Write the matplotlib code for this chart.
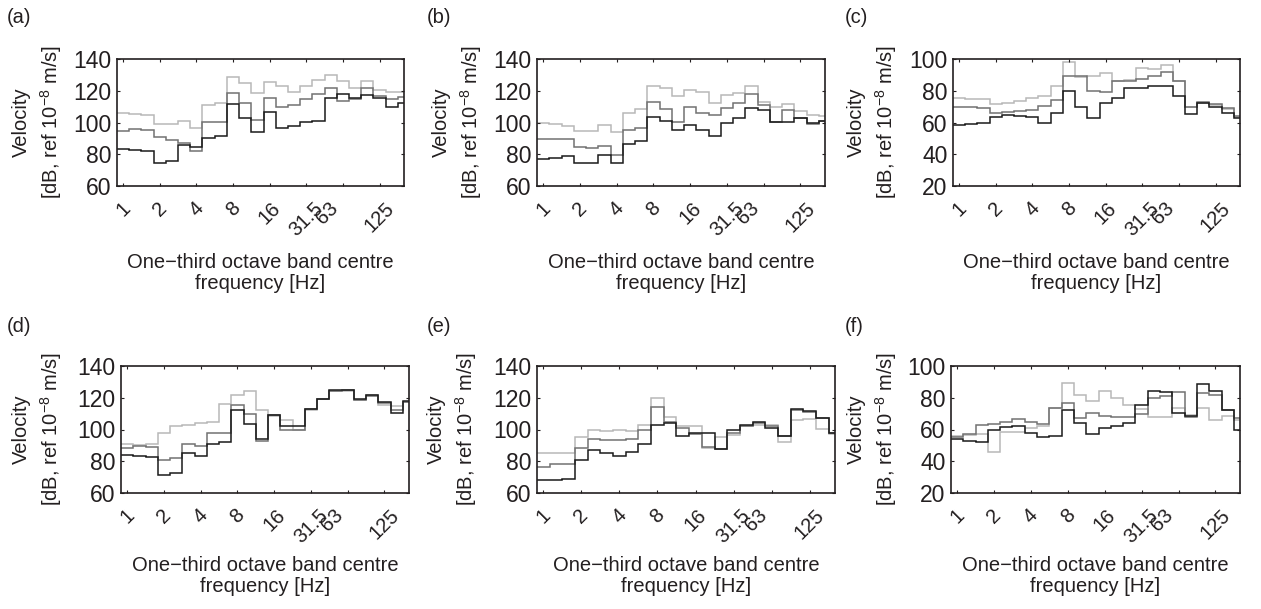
import numpy as np
import matplotlib
matplotlib.use("Agg")
import matplotlib.pyplot as plt
import matplotlib.transforms as mtransforms

plt.rcParams["font.family"] = ["Liberation Sans", "DejaVu Sans"]
plt.rcParams["mathtext.fontset"] = "custom"
plt.rcParams["mathtext.rm"] = "Liberation Sans"
plt.rcParams["mathtext.it"] = "Liberation Sans:italic"

# one-third octave bands from 1 Hz to 200 Hz (band index 0..23)
band_labels = ["1", "2", "4", "8", "16", "31.5", "63", "125"]
band_ticks = [0, 3, 6, 9, 12, 15, 18, 21]

# velocity levels, dB re 1e-8 m/s, one value per band
a_black = [83.2, 82.6, 82, 74.8, 75.6, 85.8, 84.5, 90.4, 91.7, 111.5, 103, 93.8,
           106.4, 96.3, 98, 100.5, 101, 115.7, 117.8, 115.7, 117.4, 115.3, 109.6, 112.1]
a_dark = [94.8, 95.9, 95, 91, 88.7, 87.4, 82, 100.1, 100.1, 118.5, 112.1, 101.6,
          115.7, 110, 111, 115, 118, 121.5, 113.5, 115, 121.5, 117, 114.5, 116]
a_light = [106.2, 105.6, 104.5, 98.8, 98.8, 101.2, 96.3, 111.1, 112.1, 128.4, 124.8, 118.5,
           125.4, 123.3, 119.1, 123.3, 126.9, 129.7, 126.3, 121.6, 125.9, 120.5, 119.5, 119]

b_black = [77.3, 77.7, 79, 74.6, 74.6, 79.4, 74.8, 86.2, 88.3, 103.3, 101.2, 95.2,
           98.4, 95.2, 91.7, 99.5, 102.6, 109.4, 107.9, 100.5, 100.5, 103, 99.5, 101.2]
b_dark = [89.3, 89.8, 89.8, 84.7, 84.2, 85.1, 79.4, 95.2, 96.3, 113.2, 108.5, 100.5,
          110, 105.8, 104.7, 109, 112, 117.8, 111, 100.5, 107.9, 102.6, 99, 100.9]
b_light = [99.5, 99, 98, 94.6, 94.6, 98.2, 94.2, 105.8, 108.5, 122.7, 122, 116.4,
           120.2, 119.5, 112.1, 117.4, 118.5, 122.7, 113.2, 109.5, 111.5, 107.3, 104.7, 104.3]

c_black = [58.4, 58.8, 59.5, 63.7, 64.8, 64.3, 63.7, 59.5, 65.8, 80, 70, 63,
           72.1, 75.7, 81.6, 82, 82.7, 82.7, 76.4, 65.2, 72.1, 70, 65.8, 63]
c_dark = [69.6, 69.6, 69, 66, 66.5, 67.2, 68, 70.5, 74, 89, 89, 80,
          79.5, 86, 86, 87.5, 89, 92, 86, 70, 73, 71.5, 69, 64]
c_light = [75.5, 75, 74.5, 71.5, 72, 73.5, 75.5, 76.5, 83, 98, 88.5, 89,
           91, 86.3, 86.5, 94.3, 94, 96, 86, 69.5, 72, 71, 68.5, 63.5]

d_black = [84, 83.5, 82.5, 71.5, 72.5, 85.5, 83.5, 91, 92, 112, 103.5, 94,
           109, 102.5, 102, 113, 119.5, 125, 125, 119, 122, 117.5, 110.5, 118]
d_dark = [88.5, 89.5, 89, 80.5, 82, 91, 89.5, 98, 97.5, 115.5, 110, 92.5,
          109, 100, 100, 113, 119, 124.5, 125, 118.5, 121, 116.5, 112, 117.5]
d_light = [91, 90.5, 91, 97.5, 102, 103, 104, 105, 116, 122, 124, 112.5,
           108.5, 106, 99.5, 112.5, 119, 124.5, 124.5, 118.5, 121.5, 115.5, 115, 117.5]

e_black = [68.5, 68, 69, 81, 87, 85.5, 83, 86, 91, 103, 104, 96,
           97.5, 97.5, 88, 100, 103, 105, 101, 96, 113, 111.5, 107.5, 97.5]
e_dark = [76.5, 78, 78.5, 88.5, 94, 93.5, 93.5, 94, 100, 114, 104.5, 101,
          97, 89, 88, 98, 102, 104, 102, 96, 112.5, 111, 107, 98]
e_light = [85, 85, 85.5, 95.5, 100, 99, 99.5, 99, 103, 120, 108, 102,
           102, 88.5, 95.5, 96.5, 102, 103, 103, 92, 106, 106.5, 100.5, 97]

f_black = [54, 53, 52, 59.5, 61.5, 62, 58, 55, 56, 72, 64, 57,
           61, 62, 64, 75.5, 84, 83.5, 70.5, 68.5, 88.5, 84, 72.5, 60]
f_dark = [55, 57, 63, 63.5, 65, 66.5, 64.5, 63.5, 73.5, 77, 67, 70.5,
          68.5, 68, 68, 70, 80, 81, 83.5, 68, 83, 81.5, 72, 67]
f_light = [56, 56.5, 57, 46, 58.5, 58.5, 61, 62, 73.5, 89.5, 81.5, 78,
           84.5, 80, 75.5, 73, 68, 68, 73.5, 69, 73.5, 66, 68.5, 66]

panels = ["(a)", "(b)", "(c)", "(d)", "(e)", "(f)"]
black_series = [a_black, b_black, c_black, d_black, e_black, f_black]
dark_series = [a_dark, b_dark, c_dark, d_dark, e_dark, f_dark]
light_series = [a_light, b_light, c_light, d_light, e_light, f_light]
y_ranges = [(60, 140), (60, 140), (20, 100), (60, 140), (60, 140), (20, 100)]

W, H = 1261, 609
# axes boxes in pixels: left, top, right, bottom
boxes = [(117, 59, 404, 186), (537, 59, 825, 186), (953, 59, 1240, 186),
         (121, 366, 409, 493), (537, 366, 835, 493), (951, 366, 1240, 493)]
tag_pos = [(7, 8), (427, 8), (845, 8), (7, 317), (427, 317), (845, 317)]
ylab_gap = [53, 53, 54, 57, 58, 52]      # px from axes left to the y-label
xlab_gap = [67, 67, 67, 63, 63, 63]      # px from axes bottom to the x-label top

ink = "#231f20"
fs = 14.5
ytick_fs = 16.5
xtick_fs = 14.5

fig = plt.figure(figsize=(W / 100, H / 100), dpi=100)

edges = np.arange(-0.5, 24.0, 1.0)

for k in range(6):
    l, t, r, b = boxes[k]
    wpx, hpx = r - l, b - t
    ax = fig.add_axes([l / W, 1 - b / H, wpx / W, hpx / H])

    ax.stairs(light_series[k], edges, baseline=None, color="#b8b8b8", lw=1.1)
    ax.stairs(dark_series[k], edges, baseline=None, color="#727272", lw=1.1)
    ax.stairs(black_series[k], edges, baseline=None, color="#1a1a1a", lw=1.1)

    ax.set_xlim(-0.5, 23)
    ymin, ymax = y_ranges[k]
    ax.set_ylim(ymin, ymax)
    ax.set_yticks(np.arange(ymin, ymax + 1, 20))
    ax.set_xticks(band_ticks)
    ax.set_xticklabels(band_labels, rotation=45, ha="center", va="top")

    ax.tick_params(direction="in", length=2.5, width=0.8, top=True, right=True,
                   colors=ink, pad=4)
    ax.tick_params(axis="y", labelsize=ytick_fs)
    ax.tick_params(axis="x", labelsize=xtick_fs, pad=9)
    for s in ax.spines.values():
        s.set_linewidth(1.2)
        s.set_color(ink)

    # the 63 Hz label sits a little left of its tick
    lab63 = ax.get_xticklabels()[6]
    lab63.set_transform(lab63.get_transform() +
                        mtransforms.ScaledTranslation(-16 / 100, 0, fig.dpi_scale_trans))

    ax.set_ylabel("Velocity\n[dB, ref 10$^{-8}$ m/s]", fontsize=fs, color=ink,
                  linespacing=1.35)
    ax.yaxis.set_label_coords(-ylab_gap[k] / wpx, 0.5)
    ax.set_xlabel("One\u2212third octave band centre\nfrequency [Hz]", fontsize=fs,
                  color=ink, linespacing=1.15)
    ax.xaxis.set_label_coords(0.5, -xlab_gap[k] / hpx)

    x0, y0 = tag_pos[k]
    fig.text(x0 / W, 1 - y0 / H, panels[k], fontsize=fs, color=ink, ha="left", va="top")

fig.savefig("out.png", dpi=100)
